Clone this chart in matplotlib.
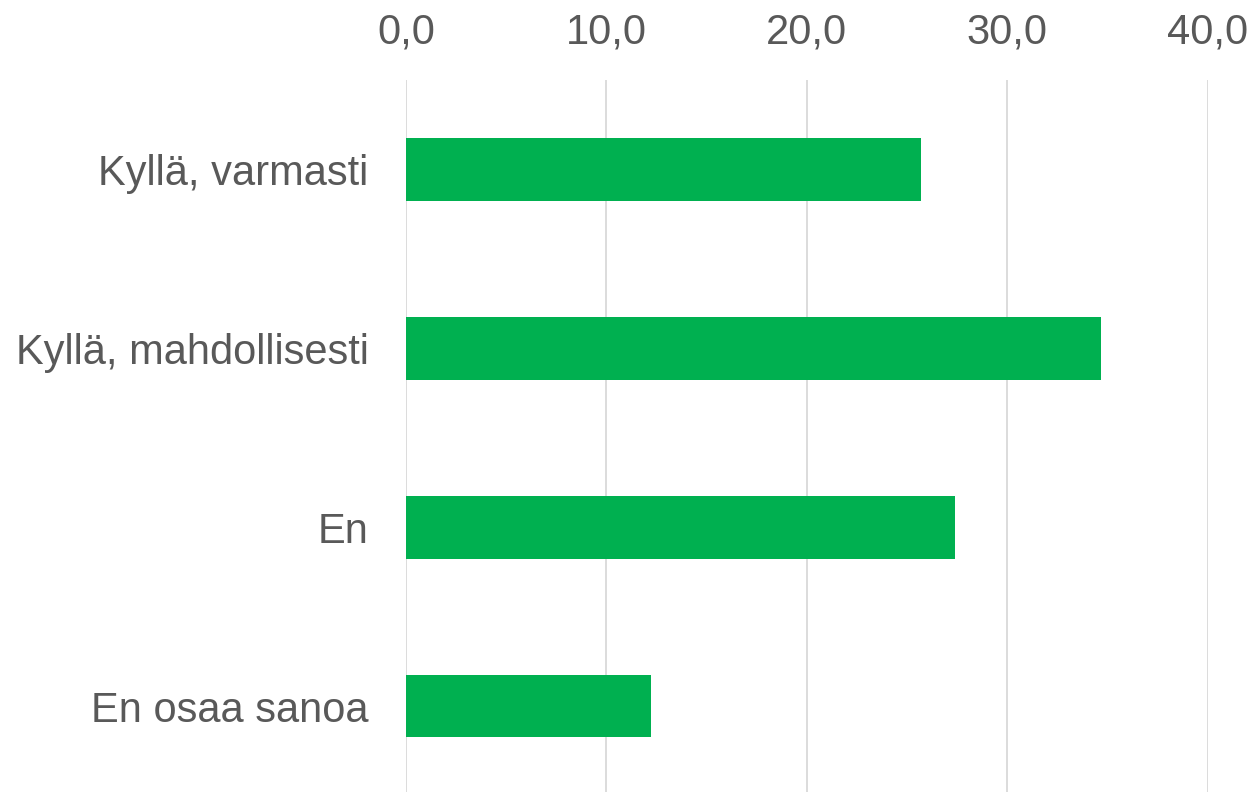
import matplotlib
matplotlib.use('Agg')
import matplotlib.pyplot as plt
from matplotlib.ticker import FuncFormatter

categories = ['Kyllä, varmasti', 'Kyllä, mahdollisesti', 'En', 'En osaa sanoa']
values = [25.7, 34.7, 27.4, 12.2]
xticks = [0, 10, 20, 30, 40]

plt.rcParams['font.family'] = ['Liberation Sans', 'DejaVu Sans']
textColor = '#595959'
fontSize = 30

fig = plt.figure(figsize=(12.52, 7.92), dpi=100)
ax = fig.add_axes([406 / 1252, 0.0, (1207.7 - 406) / 1252, 1 - 80 / 792])

ax.barh(range(len(categories)), values, height=0.35, color='#00B050', zorder=2)

ax.set_xlim(0, 40)
ax.set_ylim(3.48, -0.5)
ax.set_xticks(xticks)
ax.xaxis.set_major_formatter(FuncFormatter(lambda v, p: ('%.1f' % v).replace('.', ',')))
ax.set_yticks(range(len(categories)))
ax.set_yticklabels(categories)

ax.xaxis.tick_top()
ax.tick_params(axis='x', length=0, pad=20, labelsize=fontSize, colors=textColor)
ax.tick_params(axis='y', length=0, pad=27, labelsize=fontSize, colors=textColor)

for s in ax.spines.values():
  s.set_visible(False)

ax.xaxis.grid(True, color='#D9D9D9', linewidth=1.3, zorder=0)
ax.set_axisbelow(True)

fig.savefig('out.png', dpi=100)
